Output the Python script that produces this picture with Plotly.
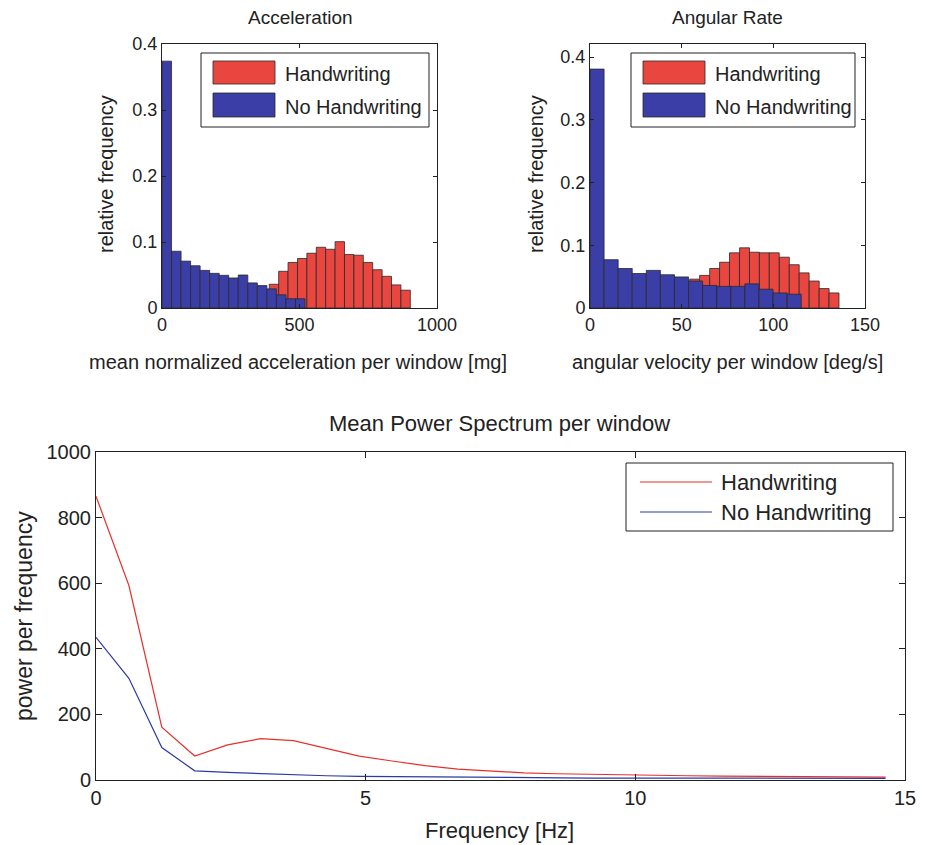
import plotly.graph_objects as go

W, H = 930, 845

# ---------------- data ----------------
series_names = ["Handwriting", "No Handwriting"]

acc_blue_x = [17.3, 52.0, 86.7, 121.3, 156.0, 190.7, 225.3, 260.0, 294.7, 329.3,
              364.0, 398.7, 433.3, 468.0, 502.7]
acc_blue_y = [0.374, 0.086, 0.071, 0.064, 0.057, 0.0525, 0.0495, 0.0455, 0.050, 0.038,
              0.034, 0.029, 0.020, 0.014, 0.014]
acc_red_x = [407.1, 441.3, 475.5, 509.7, 543.9, 578.1, 612.3, 646.5, 680.7, 714.9,
             749.1, 783.3, 817.5, 851.7, 885.9]
acc_red_y = [0.036, 0.0556, 0.069, 0.075, 0.083, 0.092, 0.089, 0.1005, 0.081, 0.080,
             0.069, 0.058, 0.048, 0.035, 0.027]
acc_blue_binw = 34.7
acc_red_binw = 34.2

ang_blue_x = [3.84, 11.52, 19.2, 26.88, 34.56, 42.24, 49.92, 57.6, 65.28, 72.96,
              80.64, 88.32, 96.0, 103.68, 111.36]
ang_blue_y = [0.381, 0.077, 0.063, 0.055, 0.060, 0.053, 0.0495, 0.043, 0.036, 0.0345,
              0.0345, 0.0385, 0.030, 0.024, 0.022]
ang_red_x = [57.1, 62.5, 68.0, 73.4, 78.8, 84.3, 89.7, 95.1, 100.5, 106.0,
             111.4, 116.8, 122.3, 127.7, 133.1]
ang_red_y = [0.046, 0.052, 0.063, 0.073, 0.088, 0.096, 0.089, 0.088, 0.088, 0.081,
             0.069, 0.056, 0.043, 0.031, 0.024]
ang_blue_binw = 7.68
ang_red_binw = 5.43

freq_hz = [0, 0.61, 1.22, 1.83, 2.44, 3.05, 3.66, 4.27, 4.88, 5.49, 6.10, 6.71, 7.32,
           7.93, 8.54, 9.15, 9.76, 10.37, 10.98, 11.59, 12.20, 12.81, 13.42, 14.03, 14.64]
power_hand = [865, 593, 161, 73, 107, 126, 120, 97, 73, 58, 44, 33, 27, 22, 19, 17, 15,
              14, 13, 12, 11, 10, 10, 9, 9]
power_nohand = [435, 310, 99, 28, 23, 19, 15, 13, 11, 10, 9, 8, 8, 7, 7, 6, 6, 6, 5, 5,
                5, 5, 5, 5, 5]

acc_ticks = [0, 500, 1000]
ang_ticks = [0, 50, 100, 150]
rel_ticks = [0, 0.1, 0.2, 0.3, 0.4]
rel_ticktext = ["0", "0.1", "0.2", "0.3", "0.4"]
freq_ticks = [0, 5, 10, 15]
pow_ticks = [0, 200, 400, 600, 800, 1000]

# ---------------- style ----------------
RED = "#EA4640"
BLUE = "#3A3EA6"
RED_LINE = "#E8302A"
BLUE_LINE = "#2B3BA6"
EDGE = "#2a2a2a"
FONT = "Liberation Sans, Arial, Helvetica, sans-serif"


def px(x):
    return x / W


def py(y):
    return 1 - y / H


fig = go.Figure()

# top-left histogram
fig.add_trace(go.Bar(x=acc_red_x, y=acc_red_y, width=[acc_red_binw] * len(acc_red_x),
                     marker=dict(color=RED, line=dict(color=EDGE, width=0.8)),
                     name=series_names[0], showlegend=False, xaxis="x", yaxis="y"))
fig.add_trace(go.Bar(x=acc_blue_x, y=acc_blue_y, width=[acc_blue_binw] * len(acc_blue_x),
                     marker=dict(color=BLUE, line=dict(color=EDGE, width=0.8)),
                     name=series_names[1], showlegend=False, xaxis="x", yaxis="y"))
# top-right histogram
fig.add_trace(go.Bar(x=ang_red_x, y=ang_red_y, width=[ang_red_binw] * len(ang_red_x),
                     marker=dict(color=RED, line=dict(color=EDGE, width=0.8)),
                     name=series_names[0], showlegend=False, xaxis="x2", yaxis="y2"))
fig.add_trace(go.Bar(x=ang_blue_x, y=ang_blue_y, width=[ang_blue_binw] * len(ang_blue_x),
                     marker=dict(color=BLUE, line=dict(color=EDGE, width=0.8)),
                     name=series_names[1], showlegend=False, xaxis="x2", yaxis="y2"))
# bottom line chart
fig.add_trace(go.Scatter(x=freq_hz, y=power_hand, mode="lines",
                         line=dict(color=RED_LINE, width=1.2),
                         name=series_names[0], showlegend=False, xaxis="x3", yaxis="y3"))
fig.add_trace(go.Scatter(x=freq_hz, y=power_nohand, mode="lines",
                         line=dict(color=BLUE_LINE, width=1.2),
                         name=series_names[1], showlegend=False, xaxis="x3", yaxis="y3"))


def ax(domain, rng, ticks, anchor, fs, ticklen, ticktext=None):
    d = dict(domain=domain, range=rng, tickvals=ticks, anchor=anchor,
             automargin=False,
             showline=True, linecolor="#222", linewidth=1, mirror="ticks",
             ticks="inside", ticklen=ticklen, tickcolor="#222", tickwidth=1,
             showgrid=False, zeroline=False, fixedrange=True,
             tickfont=dict(family=FONT, size=fs, color="#222"))
    if ticktext is not None:
        d["ticktext"] = ticktext
    return d


top_y = [py(308), py(44)]
fig.update_layout(
    width=W, height=H,
    margin=dict(l=0, r=0, t=0, b=0, autoexpand=False),
    paper_bgcolor="white", plot_bgcolor="white",
    barmode="overlay", bargap=0,
    xaxis=ax([px(162), px(437)], [0, 1000], acc_ticks, "y", 18, 4),
    yaxis=ax(top_y, [0, 0.4], rel_ticks, "x", 18, 4, rel_ticktext),
    xaxis2=ax([px(590), px(865)], [0, 150], ang_ticks, "y2", 18, 4),
    yaxis2=ax(top_y, [0, 0.421], rel_ticks, "x2", 18, 4, rel_ticktext),
    xaxis3=ax([px(96), px(905)], [0, 15], freq_ticks, "y3", 20, 6),
    yaxis3=ax([py(780), py(452)], [0, 1000], pow_ticks, "x3", 20, 6),
)

ann = []


def text(t, x, y, size, angle=0, xanchor="center"):
    ann.append(dict(text=t, x=px(x), y=py(y), xref="paper", yref="paper",
                    xanchor=xanchor, yanchor="middle", showarrow=False, textangle=angle,
                    font=dict(family=FONT, size=size, color="#222")))


text("Acceleration", 300, 17, 19)
text("Angular Rate", 727, 17, 19)
text("relative frequency", 106, 174, 20, angle=-90)
text("relative frequency", 536, 174, 20, angle=-90)
text("mean normalized acceleration per window [mg]", 298, 362, 20)
text("angular velocity per window [deg/s]", 727, 362, 20)
text("Mean Power Spectrum per window", 500, 423, 22)
text("power per frequency", 24, 616, 23, angle=-90)
text("Frequency [Hz]", 500, 830, 22)

shapes = []


def rect(x0, y0, x1, y1, fill, lw=1, lc="#222"):
    shapes.append(dict(type="rect", xref="paper", yref="paper",
                       x0=px(x0), x1=px(x1), y0=py(y1), y1=py(y0),
                       fillcolor=fill, line=dict(color=lc, width=lw)))


def hline(x0, x1, y, color):
    shapes.append(dict(type="line", xref="paper", yref="paper",
                       x0=px(x0), x1=px(x1), y0=py(y), y1=py(y),
                       line=dict(color=color, width=1.2)))


# legends for histograms
for bx0, bx1 in [(201, 429), (631, 855)]:
    rect(bx0, 53, bx1, 127, "white")
    rect(bx0 + 12, 61, bx0 + 74, 84, RED, lw=0.8, lc=EDGE)
    rect(bx0 + 12, 93, bx0 + 74, 117, BLUE, lw=0.8, lc=EDGE)
    text(series_names[0], bx0 + 82, 74, 20, xanchor="left")
    text(series_names[1], bx0 + 82, 107, 20, xanchor="left")

# legend for line chart
rect(626, 463, 893, 531, "white")
hline(640, 712, 482, RED_LINE)
hline(640, 712, 512, BLUE_LINE)
text(series_names[0], 719, 482, 22, xanchor="left")
text(series_names[1], 719, 512, 22, xanchor="left")

fig.update_layout(annotations=ann, shapes=shapes)

fig.write_html("out.html",
               config={"displayModeBar": False, "staticPlot": True},
               post_script="document.body.style.margin='0';document.body.style.padding='0';")
